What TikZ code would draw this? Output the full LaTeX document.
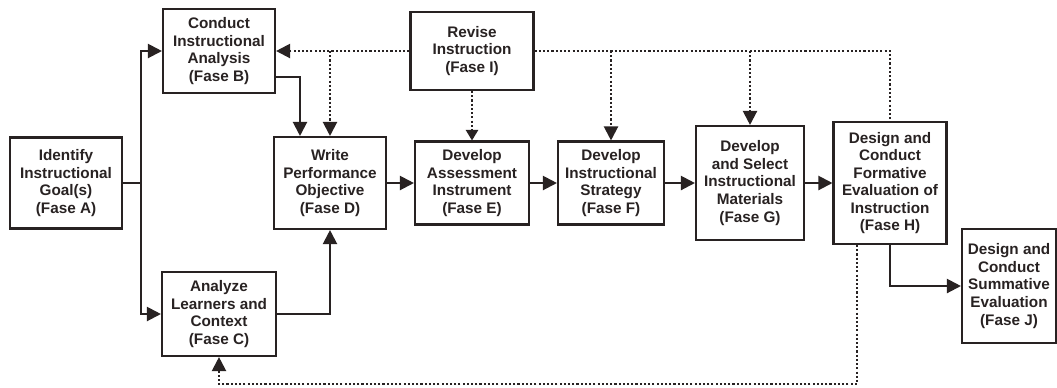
\documentclass[tikz,border=0pt]{standalone}
\usepackage{fontspec}
\setmainfont{Liberation Sans}
\usetikzlibrary{arrows.meta,calc}
\definecolor{ink}{RGB}{40,34,34}
\tikzset{
  phase/.style={draw=ink, line width=1.2pt, text=ink, align=center, inner sep=0pt,
    font=\fontsize{8.7}{10}\selectfont\bfseries},
  flow/.style={draw=ink, line width=1.2pt, -{Triangle[length=8pt,width=8pt]}},
  back/.style={flow, dash pattern=on 1.2pt off 1.2pt},
}

\begin{document}
\begin{tikzpicture}[x=0.02cm, y=-0.02cm]
  \useasboundingbox (0,0) rectangle (1057,387);
  \node[phase, minimum width=2.24cm, minimum height=1.82cm] (A) at (66,183) {Identify\\Instructional\\Goal(s)\\(Fase A)};
  \node[phase, minimum width=2.24cm, minimum height=1.68cm] (B) at (219,51) {Conduct\\Instructional\\Analysis\\(Fase B)};
  \node[phase, minimum width=2.28cm, minimum height=1.68cm] (C) at (219,314) {Analyze\\Learners and\\Context\\(Fase C)};
  \node[phase, minimum width=2.24cm, minimum height=1.84cm] (D) at (330,183) {Write\\Performance\\Objective\\(Fase D)};
  \node[phase, minimum width=2.46cm, minimum height=1.56cm] (I) at (472,51) {Revise\\Instruction\\(Fase I)};
  \node[phase, minimum width=2.28cm, minimum height=1.66cm] (E) at (472,183) {Develop\\Assessment\\Instrument\\(Fase E)};
  \node[phase, minimum width=2.12cm, minimum height=1.66cm] (F) at (611,183) {Develop\\Instructional\\Strategy\\(Fase F)};
  \node[phase, minimum width=2.16cm, minimum height=2.28cm] (G) at (750,183) {Develop\\and Select\\Instructional\\Materials\\(Fase G)};
  \node[phase, minimum width=2.26cm, minimum height=2.44cm] (H) at (890,183) {Design and\\Conduct\\Formative\\Evaluation of\\Instruction\\(Fase H)};
  \node[phase, minimum width=1.88cm, minimum height=2.28cm] (J) at (1009,286) {Design and\\Conduct\\Summative\\Evaluation\\(Fase J)};
  \coordinate (split) at (141,183);

  \draw[flow,-] (A) -- (split);
  \draw[flow] (split) |- (B);
  \draw[flow] (split) |- (C);
  \draw[flow] ($(B.east)+(0,26)$) -| ($(D.north)+(-30,0)$);
  \draw[flow] (C) -| (D);
  \draw[flow] (D) -- (E);
  \draw[flow] (E) -- (F);
  \draw[flow] (F) -- (G);
  \draw[flow] (G) -- (H);
  \draw[flow] (H) |- (J);

  \draw[back] (I) -- (B);
  \draw[back] (D |- I) -- (D);
  \draw[back, line width=0.9pt, -{Triangle[length=6pt,width=7pt]}] (I) -- (E);
  \draw[back,-] (I) -| (H);
  \draw[back] (F |- I) -- (F);
  \draw[back] (G |- I) -- (G);
  \draw[back] ($(H.south)+(-33,0)$) -- ++(0,139) -| (C);
\end{tikzpicture}
\end{document}
